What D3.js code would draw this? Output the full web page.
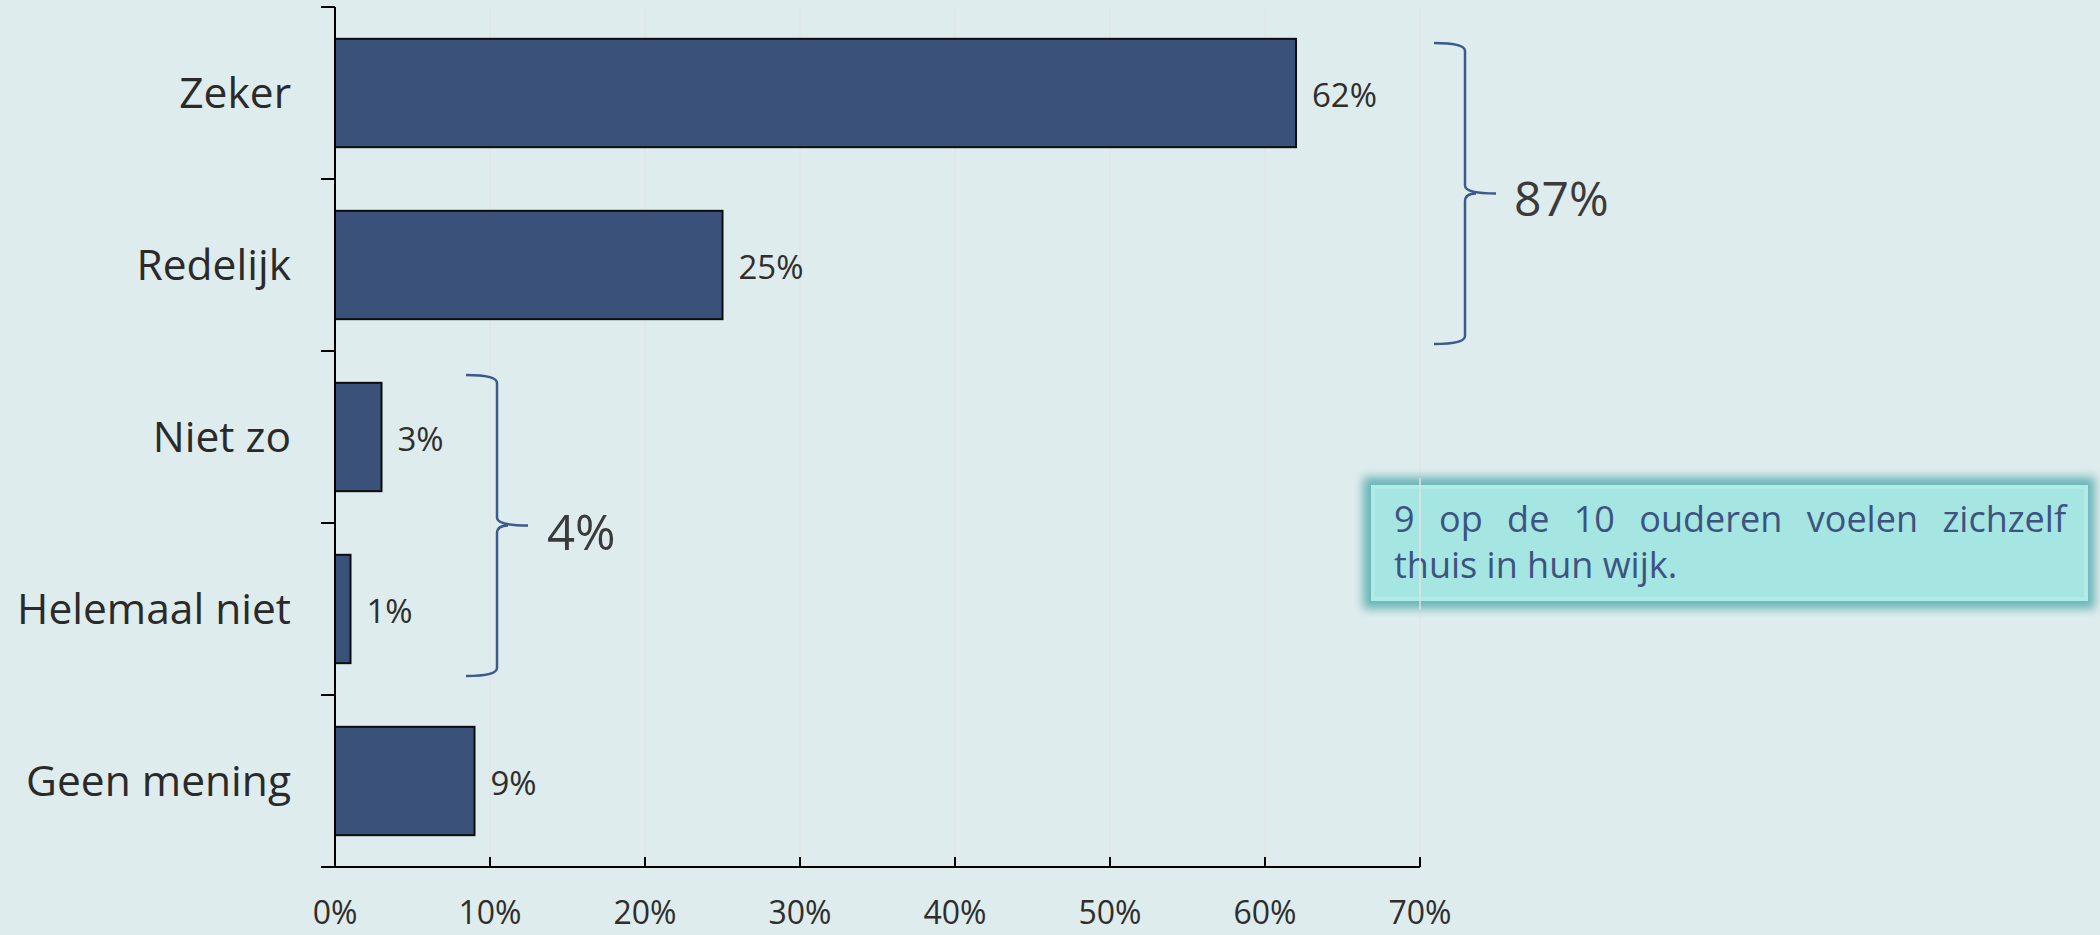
<!DOCTYPE html>
<html><head><meta charset="utf-8">
<script src="https://cdn.jsdelivr.net/npm/d3@7"></script>
<style>
html,body{margin:0;padding:0;background:#deeced;}
svg{display:block;}
</style></head>
<body>
<svg id="chart" width="2100" height="935"></svg>
<script>
const categories = ["Zeker","Redelijk","Niet zo","Helemaal niet","Geen mening"];
const values = [62,25,3,1,9];
const xTicks = [0,10,20,30,40,50,60,70];
const groupLabels = ["87%","4%"];
const groupRanges = [["Zeker","Redelijk"],["Niet zo","Helemaal niet"]];
const noteLines = ["9 op de 10 ouderen voelen zichzelf","thuis in hun wijk."];

(function(){
const svg = d3.select("#chart");
svg.append("rect").attr("width",2100).attr("height",935).attr("fill","#deeced");

const mL = 335, mR = 1420, mT = 7, mB = 867;
const x = d3.scaleLinear().domain([0,70]).range([mL,mR]);
const y = d3.scaleBand().domain(categories).range([mT,mB]).paddingInner(0).paddingOuter(0);
const step = y.step();
const barH = step*0.63;

// gridlines
svg.append("g").selectAll("line").data(xTicks.filter(d=>d>0)).join("line")
  .attr("x1",d=>x(d)).attr("x2",d=>x(d)).attr("y1",mT).attr("y2",mB)
  .attr("stroke","#e3e3e3").attr("stroke-width",1.2);

// bars
svg.append("g").selectAll("rect").data(categories).join("rect")
  .attr("x",x(0))
  .attr("y",(d)=>y(d)+(step-barH)/2)
  .attr("width",(d,i)=>x(values[i])-x(0))
  .attr("height",barH)
  .attr("fill","#3a5279").attr("stroke","#0d0d0d").attr("stroke-width",2);

// value labels
svg.append("g").selectAll("text").data(categories).join("text")
  .attr("x",(d,i)=>x(values[i])+16)
  .attr("y",d=>y(d)+step/2)
  .attr("dy","0.43em")
  .attr("font-family","Open Sans").attr("font-size",33).attr("fill","#2e2e2e")
  .text((d,i)=>values[i]+"%");

// category labels
svg.append("g").selectAll("text").data(categories).join("text")
  .attr("x",291).attr("y",d=>y(d)+step/2).attr("dy","0.36em")
  .attr("text-anchor","end")
  .attr("font-family","Open Sans").attr("font-size",42.5).attr("fill","#2a2a2a")
  .text(d=>d);

// axes
const axisG = svg.append("g").attr("stroke","#000").attr("stroke-width",2);
axisG.append("line").attr("x1",mL).attr("x2",mL).attr("y1",mT).attr("y2",mB);
axisG.append("line").attr("x1",mL-14).attr("x2",mR).attr("y1",mB).attr("y2",mB);
const bounds = categories.map(c=>y(c)).concat([mB]);
axisG.selectAll("line.yt").data(bounds).join("line").attr("class","yt")
  .attr("x1",mL-14).attr("x2",mL).attr("y1",d=>d).attr("y2",d=>d);
axisG.selectAll("line.xt").data(xTicks.filter(d=>d>0)).join("line").attr("class","xt")
  .attr("x1",d=>x(d)).attr("x2",d=>x(d)).attr("y1",mB-10).attr("y2",mB);

svg.append("g").selectAll("text").data(xTicks).join("text")
  .attr("x",d=>x(d)).attr("y",924).attr("text-anchor","middle")
  .attr("font-family","Open Sans").attr("font-size",32).attr("fill","#2e2e2e")
  .text(d=>d+"%");

// braces
function brace(xl, xv, xp, y0, y1){
  const ym = (y0+y1)/2, r = 8;
  return `M${xl},${y0} Q${xv},${y0} ${xv},${y0+r} L${xv},${ym-r} Q${xv},${ym} ${xp},${ym}`+
         ` M${xv},${ym+r} Q${xv},${ym} ${xp-20},${ym}` +
         ` M${xv},${ym+r} L${xv},${y1-r} Q${xv},${y1} ${xl},${y1}`;
}
const braceSpecs = [
  {xl:1434, xv:1465, xp:1496, y0:y(groupRanges[0][0])+36, y1:y(groupRanges[0][1])+step-7, tx:1514, dy:22, fs:48},
  {xl:466, xv:497, xp:528, y0:y(groupRanges[1][0])+24, y1:y(groupRanges[1][1])+step-19, tx:547, dy:24, fs:49}
];
braceSpecs.forEach((b,i)=>{
  svg.append("path").attr("d",brace(b.xl,b.xv,b.xp,b.y0,b.y1))
    .attr("fill","none").attr("stroke","#3b5a8e").attr("stroke-width",2.5);
  svg.append("text").attr("x",b.tx).attr("y",(b.y0+b.y1)/2+b.dy)
    .attr("font-family","Open Sans").attr("font-size",b.fs).attr("fill","#3a3a3a")
    .text(groupLabels[i]);
});

// note box
const defs = svg.append("defs");
const f = defs.append("filter").attr("id","glow").attr("x","-10%").attr("y","-40%").attr("width","120%").attr("height","180%");
f.append("feGaussianBlur").attr("stdDeviation",5);
svg.append("rect").attr("x",1363).attr("y",477).attr("width",732).attr("height",132)
  .attr("fill","#66b3b5").attr("opacity",0.95).attr("filter","url(#glow)");
svg.append("rect").attr("x",1373).attr("y",487).attr("width",713).attr("height",112)
  .attr("fill","#a5e5e2").attr("stroke","#b0ebe8").attr("stroke-width",4);
const nt = svg.append("g").attr("font-family","Open Sans").attr("font-size",36).attr("fill","#3d5480");
const t1 = nt.append("text").attr("x",1394).attr("y",532).text(noteLines[0]);
const target = 672;
const nat = t1.node().getComputedTextLength();
const gaps = noteLines[0].split(" ").length - 1;
t1.attr("word-spacing", Math.max(0,(target-nat)/gaps));
nt.append("text").attr("x",1394).attr("y",578).text(noteLines[1]);

// gridline 70% over the box
svg.append("line").attr("x1",x(70)).attr("x2",x(70)).attr("y1",478).attr("y2",610)
  .attr("stroke","#e2e2e2").attr("stroke-width",1.5);
})();
</script>
</body></html>
